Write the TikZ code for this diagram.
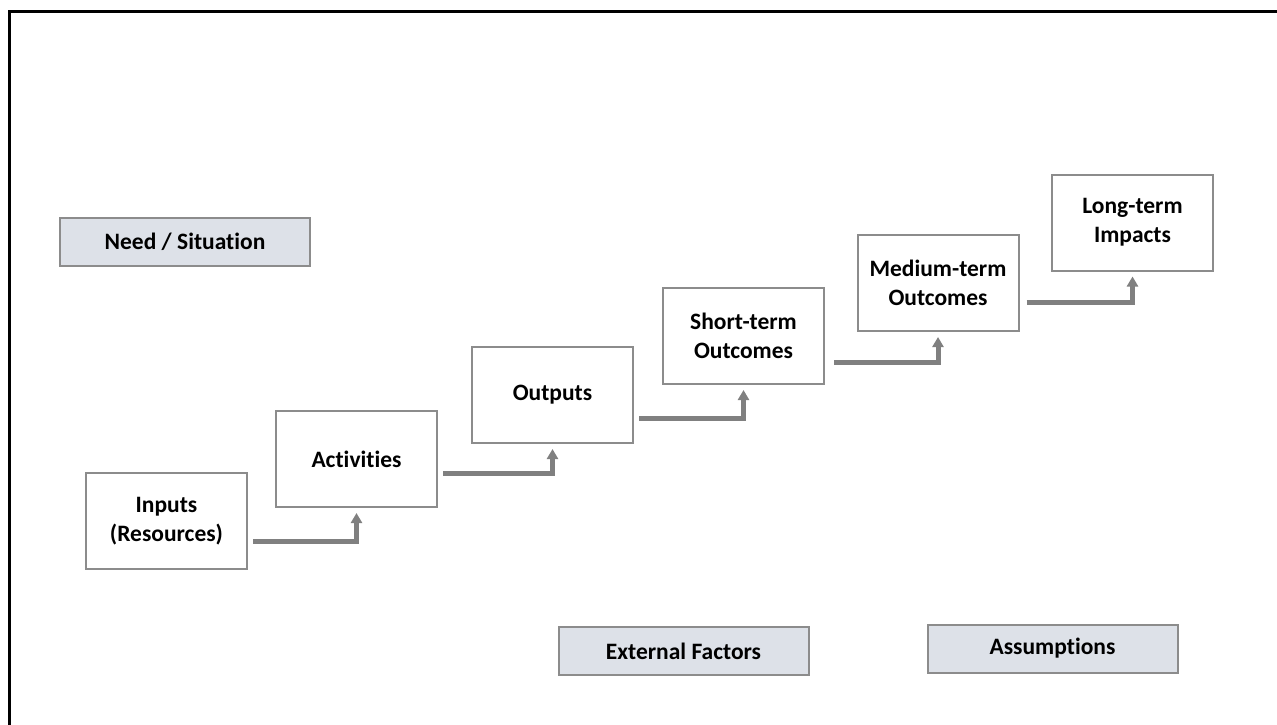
\documentclass[tikz,border=0pt]{standalone}
\usepackage{fontspec}
\setmainfont{Carlito}[RawFeature=-liga]
\usetikzlibrary{arrows.meta}
\definecolor{BoxLine}{HTML}{8C8C8C}
\definecolor{ContextFill}{HTML}{DDE1E8}
\definecolor{FlowArrow}{HTML}{808080}
\begin{document}
\begin{tikzpicture}[x=1pt, y=-1pt,
                    stage/.style = { draw=BoxLine, line width=2pt, fill=white, align=center,
                                     minimum width=161pt, minimum height=96pt, inner sep=0pt,
                                     font=\fontsize{23.5}{29}\selectfont\bfseries },
                    context/.style = { stage, fill=ContextFill, minimum width=250pt, minimum height=48pt },
                    flow/.style = { draw=FlowArrow, line width=5pt, shorten <=5pt, shorten >=5pt,
                                    -{Triangle[length=10pt,width=11pt]} }]

  \clip (0,0) rectangle (1277,724);
  \draw [line width=3pt] (9.5,11.5) rectangle (1300,750);

  \node[context] (need) at(185, 242)   {Need / Situation};
  \node[stage] (inputs) at(166.5, 521)   {Inputs\\(Resources)};
  \node[stage] (activities) at(356.5, 459)   {Activities};
  \node[stage] (outputs) at(552.5, 395)   {Outputs};
  \node[stage] (short) at(743.5, 336)   {Short-term\\Outcomes};
  \node[stage] (medium) at(938, 283)   {Medium-term\\Outcomes};
  \node[stage] (long) at(1132.5, 222.5)   {Long-term\\Impacts};
  \node[context] (external) at(683.5, 651)   {External Factors};
  \node[context] (assumptions) at(1052.5, 648.5)   {Assumptions};

  \draw [flow] ([yshift=-20pt]inputs.east) -| (activities.south);
  \draw [flow] ([yshift=-14pt]activities.east) -| (outputs.south);
  \draw [flow] ([yshift=-23pt]outputs.east) -| (short.south);
  \draw [flow, shorten <=9pt] ([yshift=-26pt]short.east) -| (medium.south);
  \draw [flow, shorten <=7pt] ([yshift=-19pt]medium.east) -| (long.south);
\end{tikzpicture}
\end{document}
